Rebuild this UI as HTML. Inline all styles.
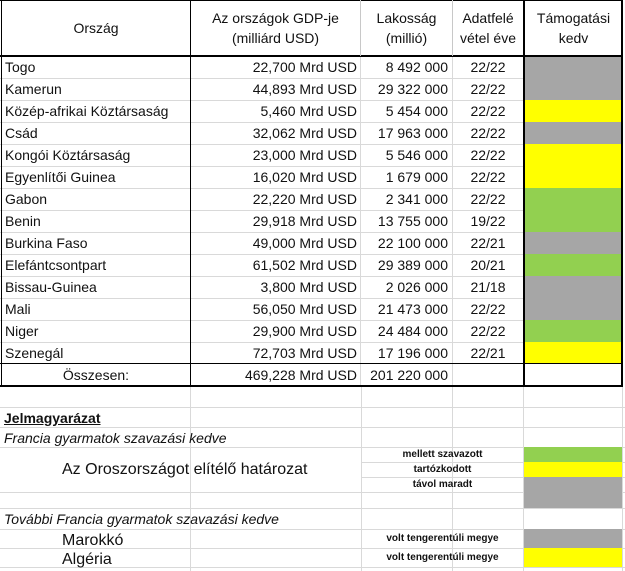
<!DOCTYPE html>
<html><head><meta charset="utf-8"><style>
*{margin:0;padding:0;box-sizing:border-box}
body{width:625px;height:571px;background:#fff;position:relative;overflow:hidden;font-family:"Liberation Sans",sans-serif;font-size:14px;color:#111}
.a{position:absolute}
.h{position:absolute;background:#d9d9d9;height:1px}
.v{position:absolute;background:#d9d9d9;width:1px}
.t{position:absolute;white-space:nowrap;line-height:22px}
.s{position:absolute;white-space:nowrap;font-size:10px;font-weight:bold;text-align:center;width:163px;left:361px}
</style></head><body>
<!-- faint background grid -->
<div class="v" style="left:190px;top:386px;height:185px"></div>
<div class="v" style="left:361px;top:386px;height:185px"></div>
<div class="v" style="left:452px;top:386px;height:185px"></div>
<div class="v" style="left:523px;top:386px;height:185px"></div>
<div class="v" style="left:622px;top:0;height:571px"></div>
<div class="h" style="left:0;top:407px;width:625px"></div>
<div class="h" style="left:0;top:427px;width:625px"></div>
<div class="h" style="left:0;top:447px;width:625px"></div>
<div class="h" style="left:361px;top:462px;width:264px"></div>
<div class="h" style="left:361px;top:477px;width:264px"></div>
<div class="h" style="left:0;top:492px;width:625px"></div>
<div class="h" style="left:0;top:508px;width:625px"></div>
<div class="h" style="left:0;top:529px;width:625px"></div>
<div class="h" style="left:0;top:548px;width:625px"></div>
<div class="h" style="left:0;top:567px;width:625px"></div>
<div id="rows"></div>
<!-- colored cells -->
<div class="a" style="left:524px;top:56px;width:98px;height:308px" id="col"></div>
<!-- table borders -->
<div class="a" style="left:0;top:0;width:623px;height:1px;background:#000"></div>
<div class="a" style="left:0;top:55px;width:623px;height:2px;background:#000"></div>
<div class="a" style="left:0;top:385px;width:623px;height:2px;background:#000"></div>
<div class="a" style="left:0;top:363px;width:623px;height:1px;background:#000"></div>
<div class="a" style="left:1px;top:0;width:1px;height:387px;background:#000"></div>
<div class="a" style="left:190px;top:0;width:1px;height:387px;background:#000"></div>
<div class="a" style="left:360px;top:0;width:1px;height:56px;background:#c8c8c8"></div>
<div class="a" style="left:452px;top:0;width:1px;height:56px;background:#c8c8c8"></div>
<div class="a" style="left:523px;top:0;width:2px;height:387px;background:#000"></div>
<div class="a" style="left:621px;top:0;width:2px;height:387px;background:#000"></div>
<!-- header -->
<div class="t" style="left:2px;width:188px;top:17px;text-align:center">Ország</div>
<div class="a" style="left:191px;width:169px;top:8px;text-align:center;line-height:20px">Az országok GDP-je<br>(milliárd USD)</div>
<div class="a" style="left:361px;width:91px;top:8px;text-align:center;line-height:20px">Lakosság<br>(millió)</div>
<div class="a" style="left:452px;width:72px;top:8px;text-align:center;line-height:20px">Adatfelé<br>vétel éve</div>
<div class="a" style="left:525px;width:97px;top:8px;text-align:center;line-height:20px">Támogatási<br>kedv</div>
<div class="t" style="left:2px;width:188px;top:364px;text-align:center">Összesen:</div>
<div class="t" style="left:191px;width:166px;top:364px;text-align:right">469,228 Mrd USD</div>
<div class="t" style="left:361px;width:87px;top:364px;text-align:right">201 220 000</div>
<!-- legend -->
<div class="t" style="left:4px;top:407px;font-weight:bold;text-decoration:underline">Jelmagyarázat </div>
<div class="t" style="left:4px;top:427px;font-style:italic">Francia gyarmatok szavazási kedve</div>
<div class="t" style="left:62px;top:459px;font-size:16px">Az Oroszországot elítélő határozat</div>
<div class="t" style="left:4px;top:508px;font-style:italic">További Francia gyarmatok szavazási kedve</div>
<div class="t" style="left:62px;top:530px;font-size:16px">Marokkó</div>
<div class="t" style="left:62px;top:549px;font-size:16px">Algéria</div>
<div class="s" style="top:449px">mellett szavazott</div>
<div class="s" style="top:464px">tartózkodott</div>
<div class="s" style="top:479px">távol maradt</div>
<div class="s" style="top:533px">volt tengerentúli megye</div>
<div class="s" style="top:552px">volt tengerentúli megye</div>
<div class="a" style="left:524px;top:447px;width:98px;height:15px;background:#92d050"></div>
<div class="a" style="left:524px;top:462px;width:98px;height:15px;background:#ffff00"></div>
<div class="a" style="left:524px;top:477px;width:98px;height:31px;background:#a6a6a6"></div>
<div class="a" style="left:524px;top:529px;width:98px;height:19px;background:#a6a6a6"></div>
<div class="a" style="left:524px;top:548px;width:98px;height:19px;background:#ffff00"></div>
<script>
var d=[["Togo","22,700","8 492 000","22/22","#a6a6a6"],["Kamerun","44,893","29 322 000","22/22","#a6a6a6"],["Közép-afrikai Köztársaság","5,460","5 454 000","22/22","#ffff00"],["Csád","32,062","17 963 000","22/22","#a6a6a6"],["Kongói Köztársaság","23,000","5 546 000","22/22","#ffff00"],["Egyenlítői Guinea","16,020","1 679 000","22/22","#ffff00"],["Gabon","22,220","2 341 000","22/22","#92d050"],["Benin","29,918","13 755 000","19/22","#92d050"],["Burkina Faso","49,000","22 100 000","22/21","#a6a6a6"],["Elefántcsontpart","61,502","29 389 000","20/21","#92d050"],["Bissau-Guinea","3,800","2 026 000","21/18","#a6a6a6"],["Mali","56,050","21 473 000","22/22","#a6a6a6"],["Niger","29,900","24 484 000","22/22","#92d050"],["Szenegál","72,703","17 196 000","22/21","#ffff00"]];
var h="";
for(var i=0;i<d.length;i++){var y=56+22*i;var r=d[i];
h+='<div class="a" style="left:524px;top:'+y+'px;width:98px;height:22px;background:'+r[4]+'"></div>';
if(i>0)h+='<div class="h" style="left:0;top:'+y+'px;width:524px"></div>';
h+='<div class="t" style="left:5px;top:'+y+'px">'+r[0]+'</div>';
h+='<div class="t" style="left:191px;width:166px;top:'+y+'px;text-align:right">'+r[1]+' Mrd USD</div>';
h+='<div class="t" style="left:361px;width:87px;top:'+y+'px;text-align:right">'+r[2]+'</div>';
h+='<div class="t" style="left:452px;width:72px;top:'+y+'px;text-align:center">'+r[3]+'</div>';}
h+='<div class="v" style="left:360px;top:56px;height:330px"></div><div class="v" style="left:452px;top:56px;height:330px"></div>';
document.getElementById("rows").innerHTML=h;
</script>
</body></html>
